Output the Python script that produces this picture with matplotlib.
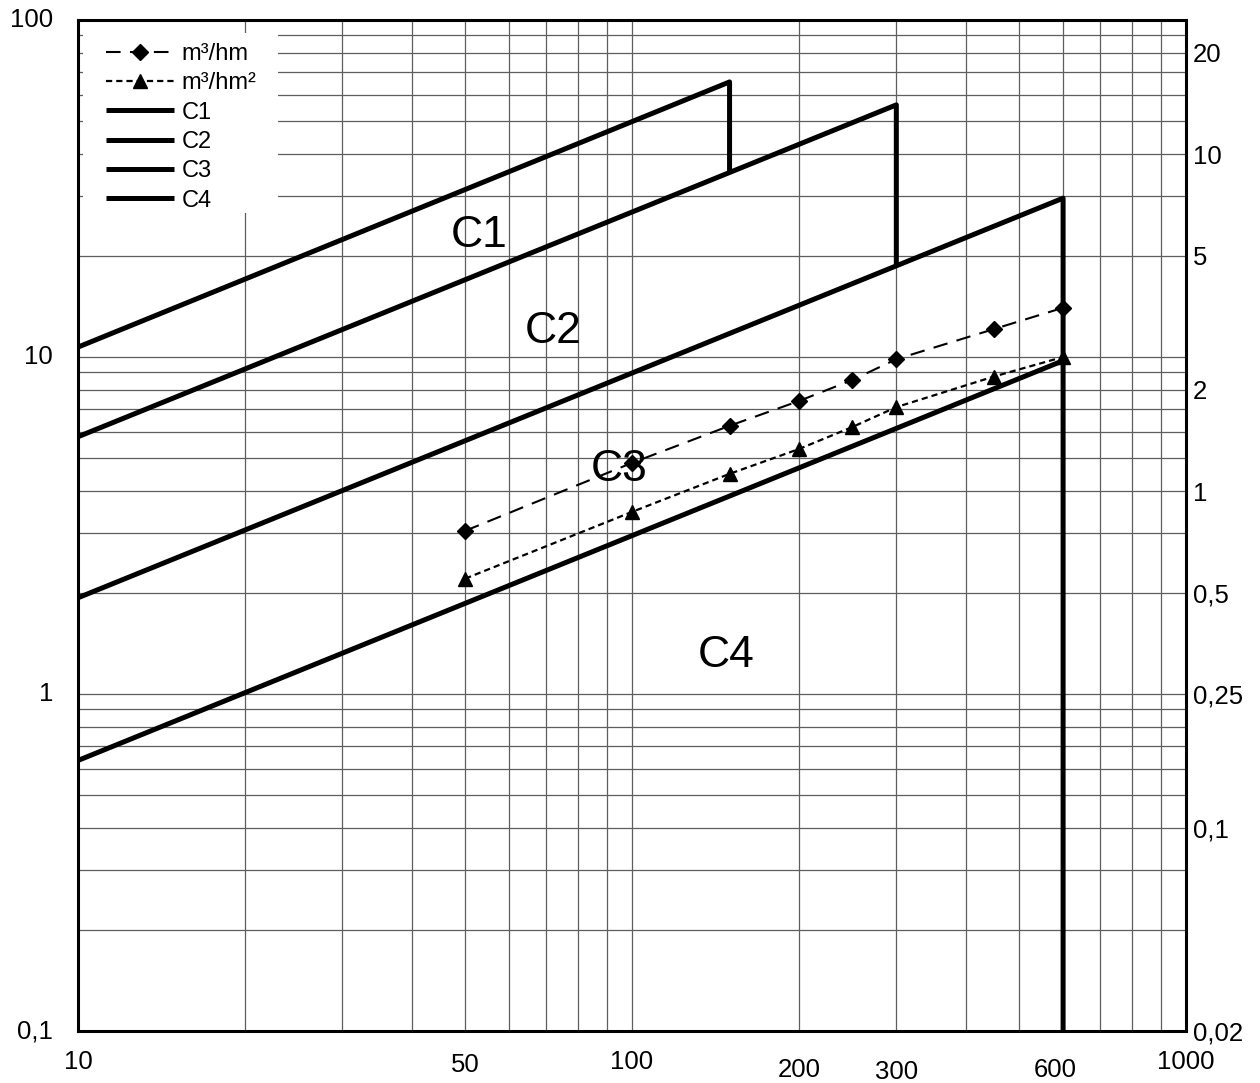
import matplotlib
matplotlib.use('Agg')
import matplotlib.pyplot as plt
import matplotlib.transforms as mtransforms
from matplotlib.ticker import LogLocator, NullFormatter, FixedLocator, FixedFormatter
from matplotlib.patches import Rectangle

plt.rcParams['font.family'] = ['Liberation Sans', 'DejaVu Sans']

# ---------------- data ----------------
x_points = [50, 100, 150, 200, 250, 300, 450, 600]
m3_hm = [3.05, 4.85, 6.25, 7.4, 8.55, 9.85, 12.1, 14.0]
m3_hm2 = [2.2, 3.47, 4.5, 5.33, 6.2, 7.1, 8.75, 10.0]

c1_x = [10, 150, 150]
c1_y = [10.7, 65.5, 35.3]
c2_x = [10, 300, 300]
c2_y = [5.8, 56.0, 18.6]
c3_x = [10, 600, 600]
c3_y = [1.93, 29.6, 0.1]
c4_x = [10, 600]
c4_y = [0.635, 9.75]

zone_labels = ['C1', 'C2', 'C3', 'C4']
zone_label_x = [53, 72, 95, 148]
zone_label_y = [23.0, 11.9, 4.65, 1.3]

left_ticks = [0.1, 1, 10, 100]
left_tick_labels = ['0,1', '1', '10', '100']
right_ticks = [0.025, 0.1, 0.25, 0.5, 1, 2, 5, 10, 20]
right_tick_labels = ['0,02', '0,1', '0,25', '0,5', '1', '2', '5', '10', '20']
right_scale = 4.0
x_ticks = [10, 50, 100, 200, 300, 600, 1000]
x_tick_labels = ['10', '50', '100', '200', '300', '600', '1000']
x_label_dy_px = [31, 34, 31, 39, 41, 39, 31]
x_label_dx_px = [0, 0, 0, 0, 0, -8, 0]

# ---------------- figure ----------------
fig = plt.figure(figsize=(12.6, 10.83), dpi=100)
W, H = 1260, 1083
ax_l, ax_r, ax_t, ax_b = 78, 1186, 20, 1031
ax = fig.add_axes([ax_l / W, 1 - ax_b / H, (ax_r - ax_l) / W, (ax_b - ax_t) / H])
ax.set_xscale('log')
ax.set_yscale('log')
ax.set_xlim(10, 1000)
ax.set_ylim(0.1, 100)

grid_kw = dict(color='#5e5e5e', linewidth=0.9)
ax.xaxis.set_major_locator(LogLocator(base=10, numticks=10))
ax.xaxis.set_minor_locator(LogLocator(base=10, subs=range(2, 10), numticks=20))
ax.yaxis.set_major_locator(LogLocator(base=10, numticks=10))
ax.yaxis.set_minor_locator(LogLocator(base=10, subs=range(2, 10), numticks=20))
ax.grid(True, which='both', **grid_kw)
ax.set_axisbelow(True)
ax.xaxis.set_major_formatter(NullFormatter())
ax.xaxis.set_minor_formatter(NullFormatter())
ax.yaxis.set_minor_formatter(NullFormatter())
ax.tick_params(axis='both', which='both', length=0)

tick_fs = 18.5

# y tick labels (left) placed as text for exact control
for v, lab in zip(left_ticks, left_tick_labels):
    ax.text(-25 / (ax_r - ax_l), v, lab,
            transform=mtransforms.blended_transform_factory(ax.transAxes, ax.transData),
            ha='right', va='center', fontsize=tick_fs)
ax.yaxis.set_major_formatter(NullFormatter())

# x tick labels
for v, lab, dy, dx in zip(x_ticks, x_tick_labels, x_label_dy_px, x_label_dx_px):
    tr = mtransforms.blended_transform_factory(ax.transData, ax.transAxes) + \
        mtransforms.ScaledTranslation(dx / 100, -dy / 100, fig.dpi_scale_trans)
    ax.text(v, 0, lab, transform=tr, ha='center', va='center', fontsize=tick_fs)

for s in ax.spines.values():
    s.set_linewidth(2.2)
    s.set_color('black')

# white legend backdrop
ax.add_patch(Rectangle((5 / (ax_r - ax_l), 1 - 193 / (ax_b - ax_t)), 195 / (ax_r - ax_l), 180 / (ax_b - ax_t),
                       transform=ax.transAxes, facecolor='white', edgecolor='none', zorder=1.5))

# data series
l1, = ax.plot(x_points, m3_hm, color='black', lw=1.5, dashes=(7, 4.5), marker='D', markersize=8.5,
              label='m³/hm', zorder=4)
l2, = ax.plot(x_points, m3_hm2, color='black', lw=1.6, dashes=(2.8, 1.8), marker='^', markersize=10.5,
              label='m³/hm²', zorder=4)

lw_c = 3.6
h1, = ax.plot(c1_x, c1_y, color='black', lw=lw_c, label='C1', zorder=3, solid_capstyle='butt')
h2, = ax.plot(c2_x, c2_y, color='black', lw=lw_c, label='C2', zorder=3, solid_capstyle='butt')
h3, = ax.plot(c3_x, c3_y, color='black', lw=lw_c, label='C3', zorder=3, solid_capstyle='butt')
h4, = ax.plot(c4_x, c4_y, color='black', lw=lw_c, label='C4', zorder=3, solid_capstyle='butt')

for lab, xx, yy in zip(zone_labels, zone_label_x, zone_label_y):
    ax.text(xx, yy, lab, fontsize=32, ha='center', va='center', zorder=5)

leg = ax.legend(handles=[l1, l2, h1, h2, h3, h4], loc='upper left',
                bbox_to_anchor=(106 / W, 1 - 43 / H), bbox_transform=fig.transFigure,
                frameon=False, fontsize=17, handlelength=2.9, handletextpad=0.3,
                labelspacing=0.31, borderpad=0, borderaxespad=0, numpoints=1)
leg.set_zorder(6)

# right axis
ax2 = ax.twinx()
ax2.set_yscale('log')
ax2.set_ylim(0.1 / right_scale, 100 / right_scale)
ax2.yaxis.set_major_locator(FixedLocator(right_ticks))
ax2.yaxis.set_major_formatter(FixedFormatter(right_tick_labels))
ax2.yaxis.set_minor_locator(FixedLocator([]))
ax2.tick_params(axis='y', which='both', length=0, pad=5, labelsize=tick_fs)
for s in ax2.spines.values():
    s.set_visible(False)

fig.savefig('out.png', dpi=100)
